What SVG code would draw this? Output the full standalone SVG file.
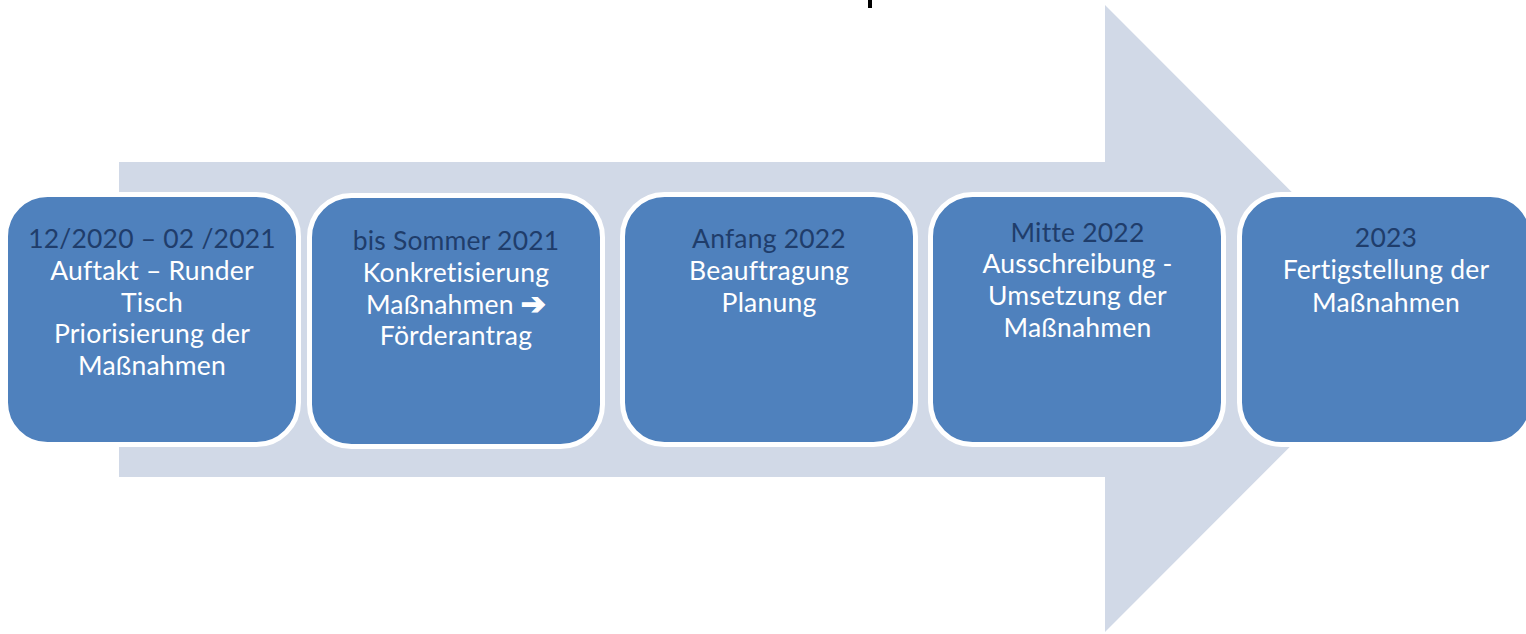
<svg xmlns="http://www.w3.org/2000/svg" width="1526" height="634" viewBox="0 0 1526 634">
  <style>
    .box { fill: #4F81BD; stroke: #FFFFFF; stroke-width: 5; }
    .t { font-family: Lato, "Liberation Sans", sans-serif; font-size: 26.5px; letter-spacing: 0.2px; text-anchor: middle; fill: #FFFFFF; }
    .h { fill: #1F3D6B; }
    .sym { font-family: "DejaVu Sans", sans-serif; font-weight: bold; font-size: 30px; stroke: #FFFFFF; stroke-width: 1.2; }
  </style>
  <rect x="0" y="0" width="1526" height="634" fill="#FFFFFF"/>
  <rect x="868" y="0" width="4" height="8" fill="#000000"/>
  <g id="connectors">
    <polygon id="timeline-arrow" points="119,162 1105,162 1105,5 1418,318.5 1105,632 1105,477 119,477" fill="#D1D9E7"/>
  </g>
  <g id="node1">
    <rect class="box" x="5.5" y="194.5" width="293" height="250" rx="42"/>
    <text class="t"><tspan class="h" x="152" y="248">12/2020 – 02 /2021</tspan><tspan x="152" y="280">Auftakt – Runder</tspan><tspan x="152" y="312">Tisch</tspan><tspan x="152" y="343">Priorisierung der</tspan><tspan x="152" y="375">Maßnahmen</tspan></text>
  </g>
  <g id="node2">
    <rect class="box" x="309.5" y="195.5" width="293" height="251" rx="42"/>
    <text class="t"><tspan class="h" x="456" y="250">bis Sommer 2021</tspan><tspan x="456" y="282">Konkretisierung</tspan><tspan x="456" y="314">Maßnahmen <tspan class="sym">➔</tspan></tspan><tspan x="456" y="345">Förderantrag</tspan></text>
  </g>
  <g id="node3">
    <rect class="box" x="622.5" y="194.5" width="293" height="250" rx="42"/>
    <text class="t"><tspan class="h" x="769" y="248">Anfang 2022</tspan><tspan x="769" y="280">Beauftragung</tspan><tspan x="769" y="312">Planung</tspan></text>
  </g>
  <g id="node4">
    <rect class="box" x="930.5" y="194.5" width="293" height="250" rx="42"/>
    <text class="t"><tspan class="h" x="1077.5" y="242">Mitte 2022</tspan><tspan x="1077.5" y="273">Ausschreibung -</tspan><tspan x="1077.5" y="305">Umsetzung der</tspan><tspan x="1077.5" y="337">Maßnahmen</tspan></text>
  </g>
  <g id="node5">
    <rect class="box" x="1239.5" y="194.5" width="293" height="250" rx="42"/>
    <text class="t"><tspan class="h" x="1386" y="247">2023</tspan><tspan x="1386" y="279">Fertigstellung der</tspan><tspan x="1386" y="312">Maßnahmen</tspan></text>
  </g>
</svg>
